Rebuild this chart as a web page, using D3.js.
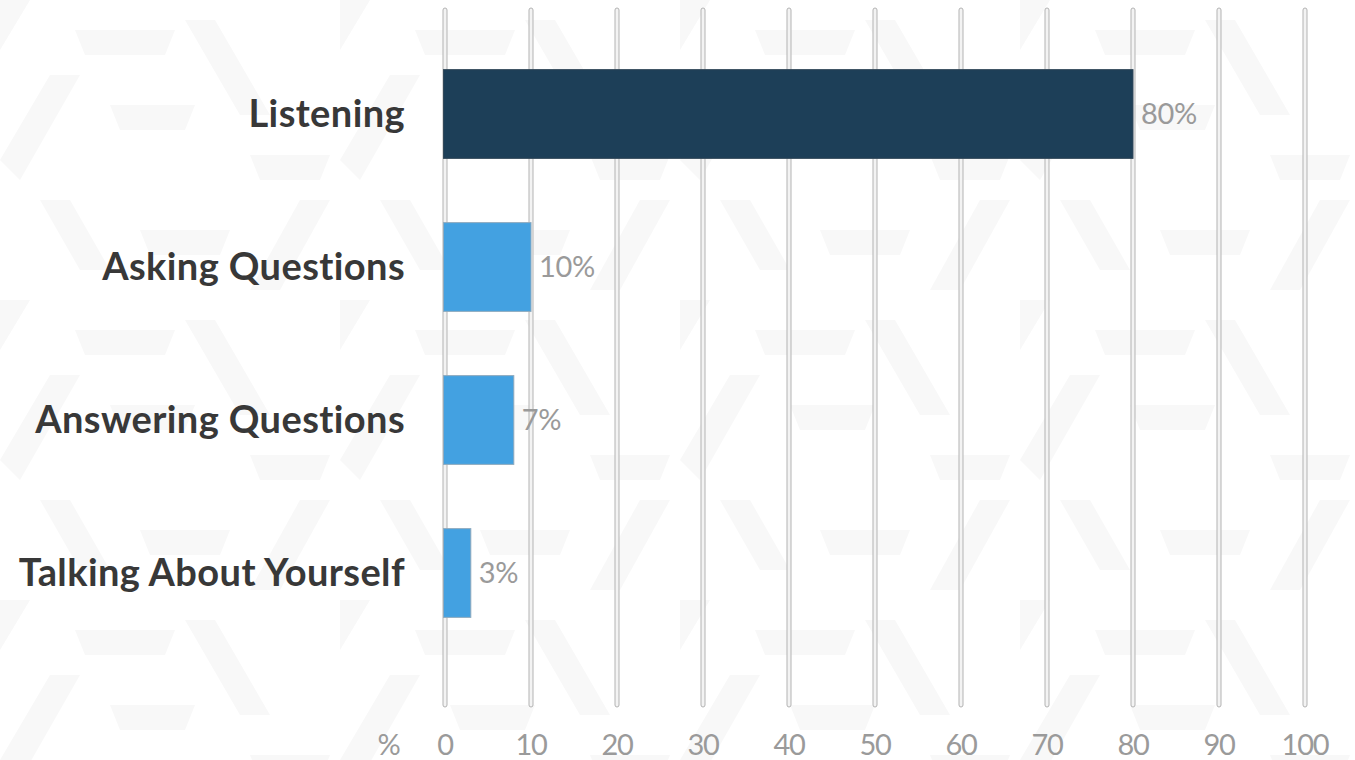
<!DOCTYPE html>
<html><head><meta charset="utf-8">
<script src="https://cdn.jsdelivr.net/npm/d3@7"></script>
<style>html,body{margin:0;padding:0;background:#fff;overflow:hidden}</style>
</head><body>
<svg id="chart" width="1355" height="760"></svg>
<script>
const categories = ["Listening", "Asking Questions", "Answering Questions", "Talking About Yourself"];
const values = [80, 10, 8, 3];
const valueLabels = ["80%", "10%", "7%", "3%"];
const tickValues = [0, 10, 20, 30, 40, 50, 60, 70, 80, 90, 100];
const barColors = ["#1d3f58", "#43a1e1", "#43a1e1", "#43a1e1"];

const svg = d3.select("#chart");
const W = 1355, H = 760;

// faint background pattern
const defs = svg.append("defs");
const pat = defs.append("pattern").attr("id", "bgpat").attr("patternUnits", "userSpaceOnUse")
  .attr("width", 340).attr("height", 300);
const pg = pat.append("g").attr("fill", "#f8f8f8");
pg.append("path").attr("d", "M0,0 L30,0 L0,50 Z");
pg.append("path").attr("d", "M75,30 L175,30 L165,55 L85,55 Z");
pg.append("path").attr("d", "M50,75 L80,75 L20,180 L0,160 Z");
pg.append("path").attr("d", "M185,20 L215,20 L270,115 L240,115 Z");
pg.append("path").attr("d", "M110,105 L195,105 L185,130 L120,130 Z");
pg.append("path").attr("d", "M40,200 L70,200 L110,270 L80,270 Z");
pg.append("path").attr("d", "M250,155 L330,155 L320,180 L260,180 Z");
pg.append("path").attr("d", "M300,200 L330,200 L280,290 L250,290 Z");
pg.append("path").attr("d", "M140,230 L230,230 L220,255 L150,255 Z");
svg.append("rect").attr("width", W).attr("height", H).attr("fill", "#fff");
svg.append("rect").attr("width", W).attr("height", H).attr("fill", "url(#bgpat)");

const x = d3.scaleLinear().domain([0, 100]).range([445, 1305]);
const y = d3.scaleBand().domain(categories).range([37.5, 649.5]).paddingInner(0.42).paddingOuter(0.21);

// gridlines
const grid = svg.append("g");
grid.selectAll("rect").data(tickValues).join("rect")
  .attr("x", d => x(d) - 2).attr("y", 8)
  .attr("width", 4).attr("height", 699)
  .attr("rx", 2)
  .attr("fill", "#f3f3f3").attr("stroke", "#b3b3b3").attr("stroke-width", 1);

// bars
svg.append("g").selectAll("rect").data(categories).join("rect")
  .attr("x", x(0) - 1.5)
  .attr("y", d => y(d))
  .attr("width", (d, i) => x(values[i]) - x(0) + 1.5)
  .attr("height", y.bandwidth())
  .attr("fill", (d, i) => barColors[i])
  .attr("stroke", (d, i) => i === 0 ? "#33495a" : "#8ea9bd")
  .attr("stroke-width", 1);

// value labels
svg.append("g").selectAll("text").data(categories).join("text")
  .attr("x", (d, i) => x(values[i]) + 8)
  .attr("y", d => y(d) + y.bandwidth() / 2)
  .attr("dy", "0.35em")
  .attr("fill", "#9a9a9a")
  .attr("font-family", "Lato, sans-serif")
  .attr("font-size", 29)
  .attr("letter-spacing", -0.3)
  .text((d, i) => valueLabels[i]);

// category labels
svg.append("g").selectAll("text").data(categories).join("text")
  .attr("x", 405)
  .attr("y", d => y(d) + y.bandwidth() / 2)
  .attr("dy", "0.35em")
  .attr("text-anchor", "end")
  .attr("fill", "#383838")
  .attr("font-family", "Lato, sans-serif")
  .attr("font-weight", "bold")
  .attr("font-size", 38)
  .attr("letter-spacing", 0.4)
  .text(d => d);

// x tick labels
svg.append("g").selectAll("text").data(tickValues).join("text")
  .attr("x", d => x(d))
  .attr("y", 745)
  .attr("dy", "0.35em")
  .attr("text-anchor", "middle")
  .attr("fill", "#9a9a9a")
  .attr("font-family", "Lato, sans-serif")
  .attr("font-size", 29)
  .attr("letter-spacing", -1.2)
  .text(d => d);

svg.append("text")
  .attr("x", 389).attr("y", 745).attr("dy", "0.35em")
  .attr("text-anchor", "middle")
  .attr("fill", "#9a9a9a")
  .attr("font-family", "Lato, sans-serif")
  .attr("font-size", 29)
  .text("%");
</script>
</body></html>
